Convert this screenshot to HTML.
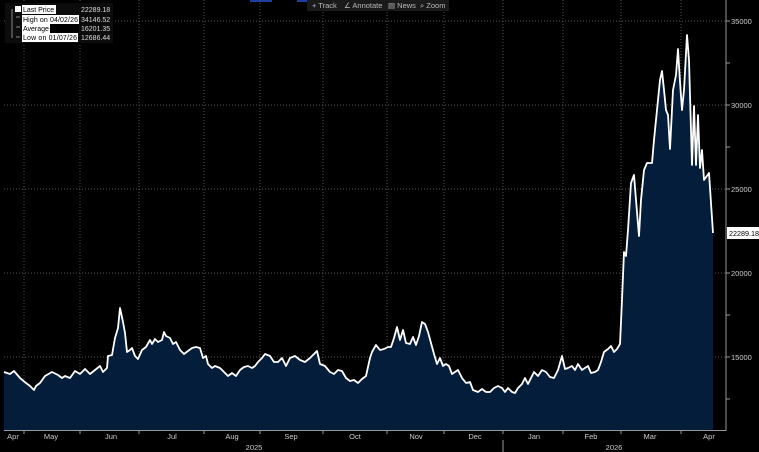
<!DOCTYPE html>
<html><head><meta charset="utf-8"><style>
html,body{margin:0;padding:0;background:#000;width:759px;height:452px;overflow:hidden;font-family:"Liberation Sans",sans-serif}
</style></head><body>
<svg width="759" height="452" xmlns="http://www.w3.org/2000/svg" font-family="Liberation Sans, sans-serif">
<rect width="759" height="452" fill="#000"/>
<rect x="250" y="0" width="22" height="2" fill="#1a3fa0"/>
<rect x="297" y="0" width="22" height="2" fill="#1a3fa0"/>
<g stroke="#555" stroke-dasharray="1,2" stroke-width="1">
<line x1="4" x2="725" y1="21" y2="21"/><line x1="4" x2="725" y1="105" y2="105"/><line x1="4" x2="725" y1="189" y2="189"/><line x1="4" x2="725" y1="273" y2="273"/><line x1="4" x2="725" y1="357" y2="357"/>
<line x1="24" x2="24" y1="0" y2="430"/><line x1="80" x2="80" y1="0" y2="430"/><line x1="139" x2="139" y1="0" y2="430"/><line x1="204" x2="204" y1="0" y2="430"/><line x1="260" x2="260" y1="0" y2="430"/><line x1="323" x2="323" y1="0" y2="430"/><line x1="387" x2="387" y1="0" y2="430"/><line x1="444" x2="444" y1="0" y2="430"/><line x1="503" x2="503" y1="0" y2="430"/><line x1="563" x2="563" y1="0" y2="430"/><line x1="621" x2="621" y1="0" y2="430"/><line x1="681" x2="681" y1="0" y2="430"/>
</g>
<polygon fill="#041d3a" points="4,430 4,372 10,374 14,371 20,378 26,383 30,386 34,390 36,386 40,383 45,376 52,372 58,375 62,378 65,376 70,378 75,371 80,374 85,369 90,374 95,370 100,366 103,372 107,368 108,356 112,355 115,338 118,328 120,308 123,322 125,333 127,352 130,350 132,348 135,356 138,359 142,350 146,347 150,340 152,344 155,339 158,342 162,340 164,332 166,336 170,338 173,344 176,342 180,350 184,354 188,351 192,348 196,347 200,348 203,358 206,356 208,364 212,368 215,366 220,368 224,372 228,376 232,373 236,376 240,370 244,367 248,366 252,368 255,366 258,362 262,358 265,354 270,356 274,362 278,362 282,358 286,366 290,358 295,356 300,360 305,362 310,358 314,354 317,351 320,364 325,366 330,372 334,374 338,370 342,371 346,378 350,381 354,380 358,383 362,379 366,376 370,358 372,352 376,345 380,350 384,349 388,347 391,347 394,338 397,327 400,340 403,330 406,343 410,344 413,337 416,345 419,336 422,322 425,324 428,332 431,343 434,354 437,364 440,358 443,366 446,364 449,366 452,374 455,372 458,370 462,378 466,383 470,382 473,390 478,392 482,389 486,392 490,392 494,388 498,386 502,388 505,392 508,388 512,392 515,393 518,388 522,384 525,378 528,384 532,376 534,372 538,376 542,370 546,372 550,377 554,378 558,370 562,356 565,369 568,368 572,366 575,370 578,364 582,370 585,368 588,366 591,373 595,372 598,370 601,362 604,352 608,349 611,346 614,352 617,349 620,344 622,300 624,252 626,256 628,230 631,183 634,175 636,200 639,236 641,200 644,170 647,163 652,163 654,140 657,110 660,80 662,71 664,90 666,110 668,115 670,149 673,90 676,75 678,49 680,82 682,110 684,90 687,35 689,60 692,165 694,106 696,165 698,115 700,168 702,150 704,180 709,173 713,233 713,430"/>
<polyline fill="none" stroke="#fff" stroke-width="1.8" stroke-linejoin="round" points="4,372 10,374 14,371 20,378 26,383 30,386 34,390 36,386 40,383 45,376 52,372 58,375 62,378 65,376 70,378 75,371 80,374 85,369 90,374 95,370 100,366 103,372 107,368 108,356 112,355 115,338 118,328 120,308 123,322 125,333 127,352 130,350 132,348 135,356 138,359 142,350 146,347 150,340 152,344 155,339 158,342 162,340 164,332 166,336 170,338 173,344 176,342 180,350 184,354 188,351 192,348 196,347 200,348 203,358 206,356 208,364 212,368 215,366 220,368 224,372 228,376 232,373 236,376 240,370 244,367 248,366 252,368 255,366 258,362 262,358 265,354 270,356 274,362 278,362 282,358 286,366 290,358 295,356 300,360 305,362 310,358 314,354 317,351 320,364 325,366 330,372 334,374 338,370 342,371 346,378 350,381 354,380 358,383 362,379 366,376 370,358 372,352 376,345 380,350 384,349 388,347 391,347 394,338 397,327 400,340 403,330 406,343 410,344 413,337 416,345 419,336 422,322 425,324 428,332 431,343 434,354 437,364 440,358 443,366 446,364 449,366 452,374 455,372 458,370 462,378 466,383 470,382 473,390 478,392 482,389 486,392 490,392 494,388 498,386 502,388 505,392 508,388 512,392 515,393 518,388 522,384 525,378 528,384 532,376 534,372 538,376 542,370 546,372 550,377 554,378 558,370 562,356 565,369 568,368 572,366 575,370 578,364 582,370 585,368 588,366 591,373 595,372 598,370 601,362 604,352 608,349 611,346 614,352 617,349 620,344 622,300 624,252 626,256 628,230 631,183 634,175 636,200 639,236 641,200 644,170 647,163 652,163 654,140 657,110 660,80 662,71 664,90 666,110 668,115 670,149 673,90 676,75 678,49 680,82 682,110 684,90 687,35 689,60 692,165 694,106 696,165 698,115 700,168 702,150 704,180 709,173 713,233"/>
<line x1="4" x2="726" y1="430.5" y2="430.5" stroke="#999"/>
<line x1="726" x2="726" y1="0" y2="431" stroke="#999"/>
<g stroke="#999"><line x1="726" x2="730" y1="21" y2="21"/><line x1="726" x2="730" y1="63" y2="63"/><line x1="726" x2="730" y1="105" y2="105"/><line x1="726" x2="730" y1="147" y2="147"/><line x1="726" x2="730" y1="189" y2="189"/><line x1="726" x2="730" y1="273" y2="273"/><line x1="726" x2="730" y1="315" y2="315"/><line x1="726" x2="730" y1="357" y2="357"/><line x1="726" x2="730" y1="399" y2="399"/>
<line x1="24" x2="24" y1="430" y2="434"/><line x1="80" x2="80" y1="430" y2="434"/><line x1="139" x2="139" y1="430" y2="434"/><line x1="204" x2="204" y1="430" y2="434"/><line x1="260" x2="260" y1="430" y2="434"/><line x1="323" x2="323" y1="430" y2="434"/><line x1="387" x2="387" y1="430" y2="434"/><line x1="444" x2="444" y1="430" y2="434"/><line x1="503" x2="503" y1="430" y2="434"/><line x1="563" x2="563" y1="430" y2="434"/><line x1="621" x2="621" y1="430" y2="434"/><line x1="681" x2="681" y1="430" y2="434"/>
<line x1="503" x2="503" y1="440" y2="452"/></g>
<g fill="#ccc" font-size="7.5">
<text x="731" y="24">35000</text><text x="731" y="108">30000</text><text x="731" y="192">25000</text><text x="731" y="276">20000</text><text x="731" y="360">15000</text>
<g text-anchor="middle"><text x="13" y="439">Apr</text><text x="51" y="439">May</text><text x="111" y="439">Jun</text><text x="172" y="439">Jul</text><text x="232" y="439">Aug</text><text x="291" y="439">Sep</text><text x="355" y="439">Oct</text><text x="416" y="439">Nov</text><text x="475" y="439">Dec</text><text x="534" y="439">Jan</text><text x="591" y="439">Feb</text><text x="650" y="439">Mar</text><text x="709" y="439">Apr</text>
<text x="254" y="450">2025</text><text x="614" y="450">2026</text></g></g>
<rect x="727" y="227" width="32" height="12" fill="#fff"/>
<text x="729" y="236" font-size="7.2" fill="#000">22289.18</text>
<rect x="5" y="3" width="108" height="40" fill="#0c0c0c"/>
<rect x="15" y="6" width="6" height="6" fill="#fff"/>
<g stroke="#888" fill="none"><line x1="12" x2="12" y1="9" y2="38"/><line x1="16" x2="20" y1="17" y2="17"/><line x1="16" x2="20" y1="27" y2="27"/><line x1="16" x2="20" y1="37" y2="37"/></g>
<rect x="22" y="5" width="34" height="9" fill="#fff"/><rect x="22" y="15" width="57" height="9" fill="#fff"/><rect x="22" y="24" width="28" height="9" fill="#fff"/><rect x="50" y="24" width="29" height="9" fill="#000"/><rect x="22" y="33" width="56" height="9" fill="#fff"/>
<g font-size="7"><text x="23" y="12" fill="#000">Last Price</text><text x="23" y="22" fill="#000" textLength="55">High on 04/02/26</text><text x="23" y="31" fill="#000">Average</text><text x="23" y="40" fill="#000" textLength="54">Low on 01/07/26</text>
<g fill="#ddd"><text x="81" y="12">22289.18</text><text x="81" y="22">34146.52</text><text x="81" y="31">16201.35</text><text x="81" y="40">12686.44</text></g></g>
<rect x="307" y="0" width="142" height="11" fill="#1a1a1a"/>
<g font-size="7.5" fill="#bbb"><text x="312" y="8">+ Track</text><text x="344" y="8">∠ Annotate</text><text x="388" y="8">▤ News</text><text x="420" y="8">⌕ Zoom</text></g>
</svg>
</body></html>
